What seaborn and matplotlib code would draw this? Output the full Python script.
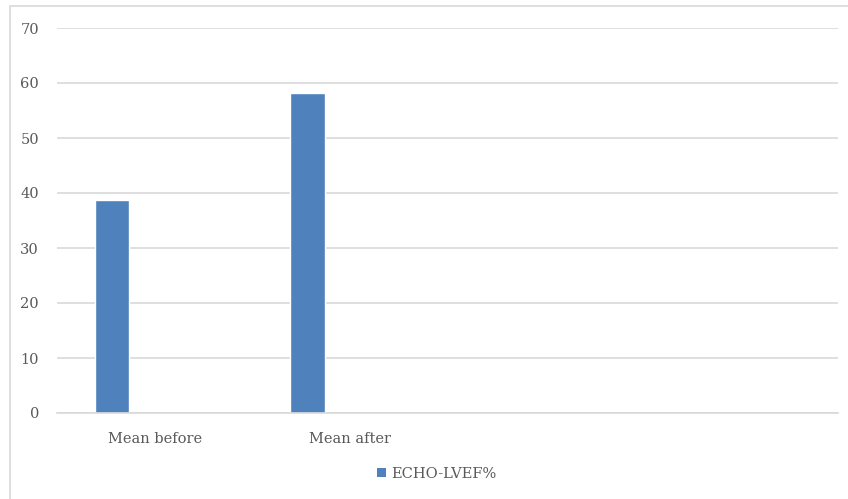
import matplotlib
matplotlib.use("Agg")
import matplotlib.pyplot as plt
from matplotlib.patches import Rectangle
import seaborn as sns
import pandas as pd
import numpy as np

# Chart data
categories = ["Mean before", "Mean after", "", " "]
series_names = ["ECHO-LVEF%", "series 2", "series 3"]
lvef_values = [38.7, 58.2]

BAR_BLUE = "#4F81BD"
TEXT_GRAY = "#595959"
GRID_GRAY = "#D9D9D9"

df = pd.DataFrame({
    "category": categories[:2],
    "series": [series_names[0]] * 2,
    "value": lvef_values,
})

sns.set_theme(style="white")
plt.rcParams["font.family"] = ["DejaVu Serif"]

W, H = 848, 499
fig = plt.figure(figsize=(W / 100, H / 100), dpi=100)
fig.patch.set_facecolor("white")

# outer chart frame
fig.patches.append(Rectangle((10 / W, -0.05), 1.0, (499 - 6) / H + 0.05,
                             transform=fig.transFigure, fill=False,
                             edgecolor=GRID_GRAY, linewidth=1.2))

ax = fig.add_axes([57 / W, (H - 413) / H, 781 / W, (413 - 28) / H])

sns.barplot(data=df, x="category", y="value", hue="series",
            order=categories, hue_order=series_names, dodge=True,
            palette=[BAR_BLUE] * 3, width=0.65, gap=0.19,
            saturation=1, legend=False, ax=ax)

ax.set_ylim(0, 70)
ax.set_xlim(-0.5, 3.5)
ax.set_yticks(np.arange(0, 71, 10))
ax.yaxis.grid(True, color=GRID_GRAY, linewidth=1.2)
ax.set_axisbelow(True)
for s in ["top", "right", "left"]:
    ax.spines[s].set_visible(False)
ax.spines["bottom"].set_color(GRID_GRAY)
ax.spines["bottom"].set_linewidth(1.2)
ax.tick_params(axis="both", length=0, colors=TEXT_GRAY, labelsize=10.5)
ax.tick_params(axis="y", pad=13)
ax.tick_params(axis="x", pad=14)
ax.set_xlabel("")
ax.set_ylabel("")

handle = Rectangle((0, 0), 1, 1, facecolor=BAR_BLUE, edgecolor="none")
fig.legend([handle], [series_names[0]], loc="center",
           bbox_to_anchor=(437 / W, (H - 474) / H), frameon=False,
           fontsize=10.5, labelcolor=TEXT_GRAY, handlelength=0.6,
           handleheight=0.6, handletextpad=0.4)

fig.savefig("out.png", dpi=100, facecolor="white")
